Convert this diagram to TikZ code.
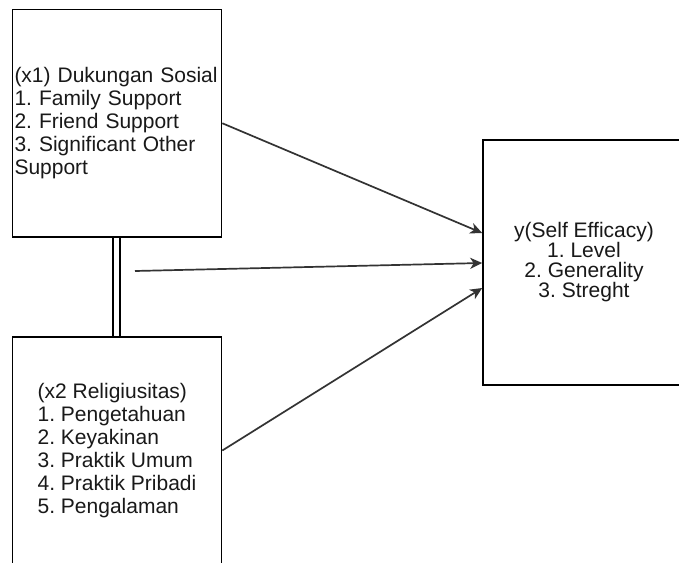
\documentclass[tikz,border=0pt]{standalone}
\usepackage{fontspec}
\setmainfont{Liberation Sans}
\usetikzlibrary{arrows.meta}
\begin{document}
\frenchspacing
\begin{tikzpicture}[x=1pt,y=-1pt,
  box/.style={draw=black,line width=1.6pt,inner sep=2pt,text=black!90,font=\fontsize{21}{23}\selectfont},
  arr/.style={draw=black!80,line width=1.7pt,-{Stealth[length=12pt,width=11pt,inset=3.5pt]}}]
\useasboundingbox (0,0) rectangle (679,562);
\clip (0,0) rectangle (679,562);
\fill[white] (0,0) rectangle (679,562);
\node[box, minimum width=209pt, minimum height=227.5pt, text width=205pt, align=left] (x1) at (117,123.25)
  {(x1) Dukungan Sosial\\1. Family Support\\2. Friend Support\\3. Significant Other\\Support};
\node[box, minimum width=209pt, minimum height=227pt, align=left] (x2) at (117,450.5)
  {(x2 Religiusitas)\\1. Pengetahuan\\2. Keyakinan\\3. Praktik Umum\\4. Praktik Pribadi\\5. Pengalaman};
\node[box, minimum width=202pt, minimum height=245pt, align=center, font=\fontsize{21}{20}\selectfont] (y) at (584,262.5)
  {y(Self Efficacy)\\1. Level\\2. Generality\\3. Streght};
\coordinate (s) at (135,271);
\draw[double=white, double distance=5.4pt, line width=1.5pt] ([xshift=-0.5pt]x1.south) -- ([xshift=-0.5pt]x2.north);
\draw[arr] (x1.east) -- ([yshift=29.5pt]y.west);
\draw[arr] (s) -- ([yshift=-0.5pt]y.west);
\draw[arr] (x2.east) -- ([yshift=-25.5pt]y.west);
\end{tikzpicture}
\end{document}
